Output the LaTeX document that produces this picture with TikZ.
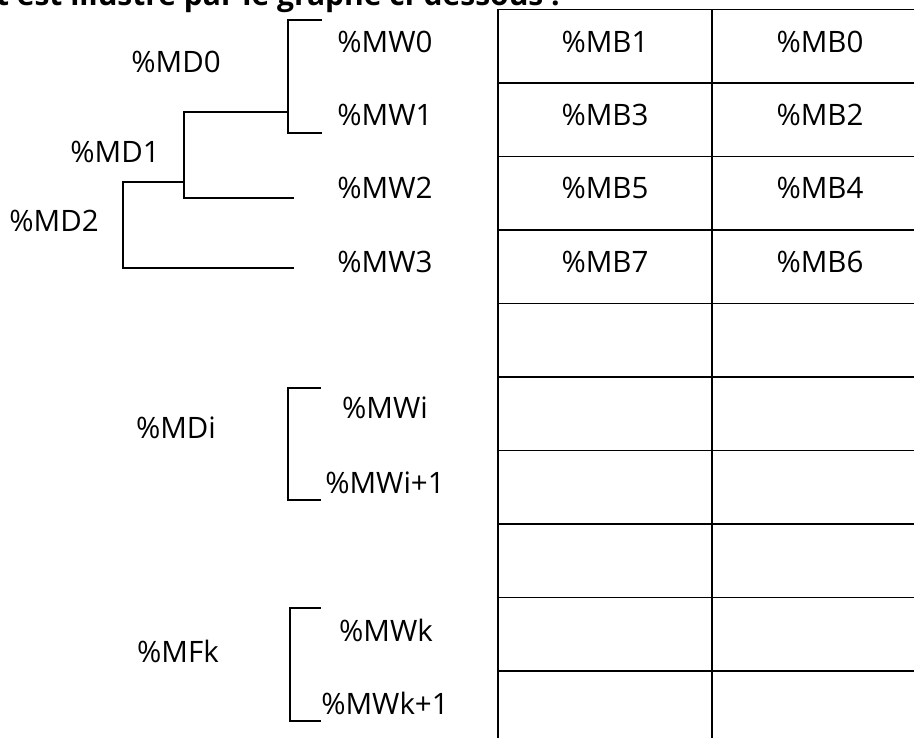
\documentclass[tikz,border=0pt]{standalone}
\usepackage{fontspec}
\setmainfont{Open Sans}
\begin{document}
\begin{tikzpicture}[x=1pt,y=-1pt,
  lbl/.style={font=\fontsize{29.5}{34}\selectfont, inner sep=0pt},
  tree/.style={line width=1.4pt, line cap=rect},
  gridline/.style={line width=1.8pt}]
\useasboundingbox (0,0) rectangle (914,738);
\clip (0,0) rectangle (914,738);
% cut-off heading
\node[anchor=base east, font=\bfseries\fontsize{30}{34}\selectfont, inner sep=0pt] (title) at (560,6) {t est illustré par le graphe ci-dessous :};
% table
\foreach \y in {9.5,83,156.5,230,303.5,377,450.5,524,597.5,671}
  \draw[gridline] (498,\y) -- (930,\y);
\coordinate (tl) at (498,9.5);
\coordinate (tm) at (712,9.5);
\draw[gridline] (tl) -- (498,760);
\draw[gridline] (tm) -- (712,760);
\node[lbl] (MB1) at (605,42) {\%MB1};
\node[lbl] (MB0) at (820,42) {\%MB0};
\node[lbl] (MB3) at (605,115) {\%MB3};
\node[lbl] (MB2) at (820,115) {\%MB2};
\node[lbl] (MB5) at (605,188) {\%MB5};
\node[lbl] (MB4) at (820,188) {\%MB4};
\node[lbl] (MB7) at (605,262) {\%MB7};
\node[lbl] (MB6) at (820,262) {\%MB6};
% labels
\node[lbl] (MW0) at (385,42) {\%MW0};
\node[lbl] (MW1) at (385,115) {\%MW1};
\node[lbl] (MW2) at (385,188) {\%MW2};
\node[lbl] (MW3) at (385,262) {\%MW3};
\node[lbl] (MD0) at (176,62) {\%MD0};
\node[lbl] (MD1) at (115,152) {\%MD1};
\node[lbl] (MD2) at (54,221) {\%MD2};
\node[lbl] (MDi) at (176,428) {\%MDi};
\node[lbl] (MWi) at (385,408) {\%MWi};
\node[lbl] (MWi1) at (385,483) {\%MWi+1};
\node[lbl] (MFk) at (178,651) {\%MFk};
\node[lbl] (MWk) at (386,630) {\%MWk};
\node[lbl] (MWk1) at (385,703) {\%MWk+1};
% tree lines
\coordinate (w0) at (321,20);
\coordinate (w1) at (321,133);
\coordinate (j0) at (288,112);
\coordinate (w2) at (293,198);
\coordinate (j1) at (184,182);
\coordinate (w3) at (293,268);
\draw[tree] (w0) -- (288,20) -- (288,133) -- (w1);
\draw[tree] (j0) -- (184,112) -- (184,198) -- (w2);
\draw[tree] (j1) -- (123,182) -- (123,268) -- (w3);
\coordinate (wi) at (320,388);
\coordinate (wi1) at (320,500);
\draw[tree] (wi) -- (288,388) -- (288,500) -- (wi1);
\coordinate (wk) at (320,608);
\coordinate (wk1) at (320,721);
\draw[tree] (wk) -- (290,608) -- (290,721) -- (wk1);
\end{tikzpicture}
\end{document}
